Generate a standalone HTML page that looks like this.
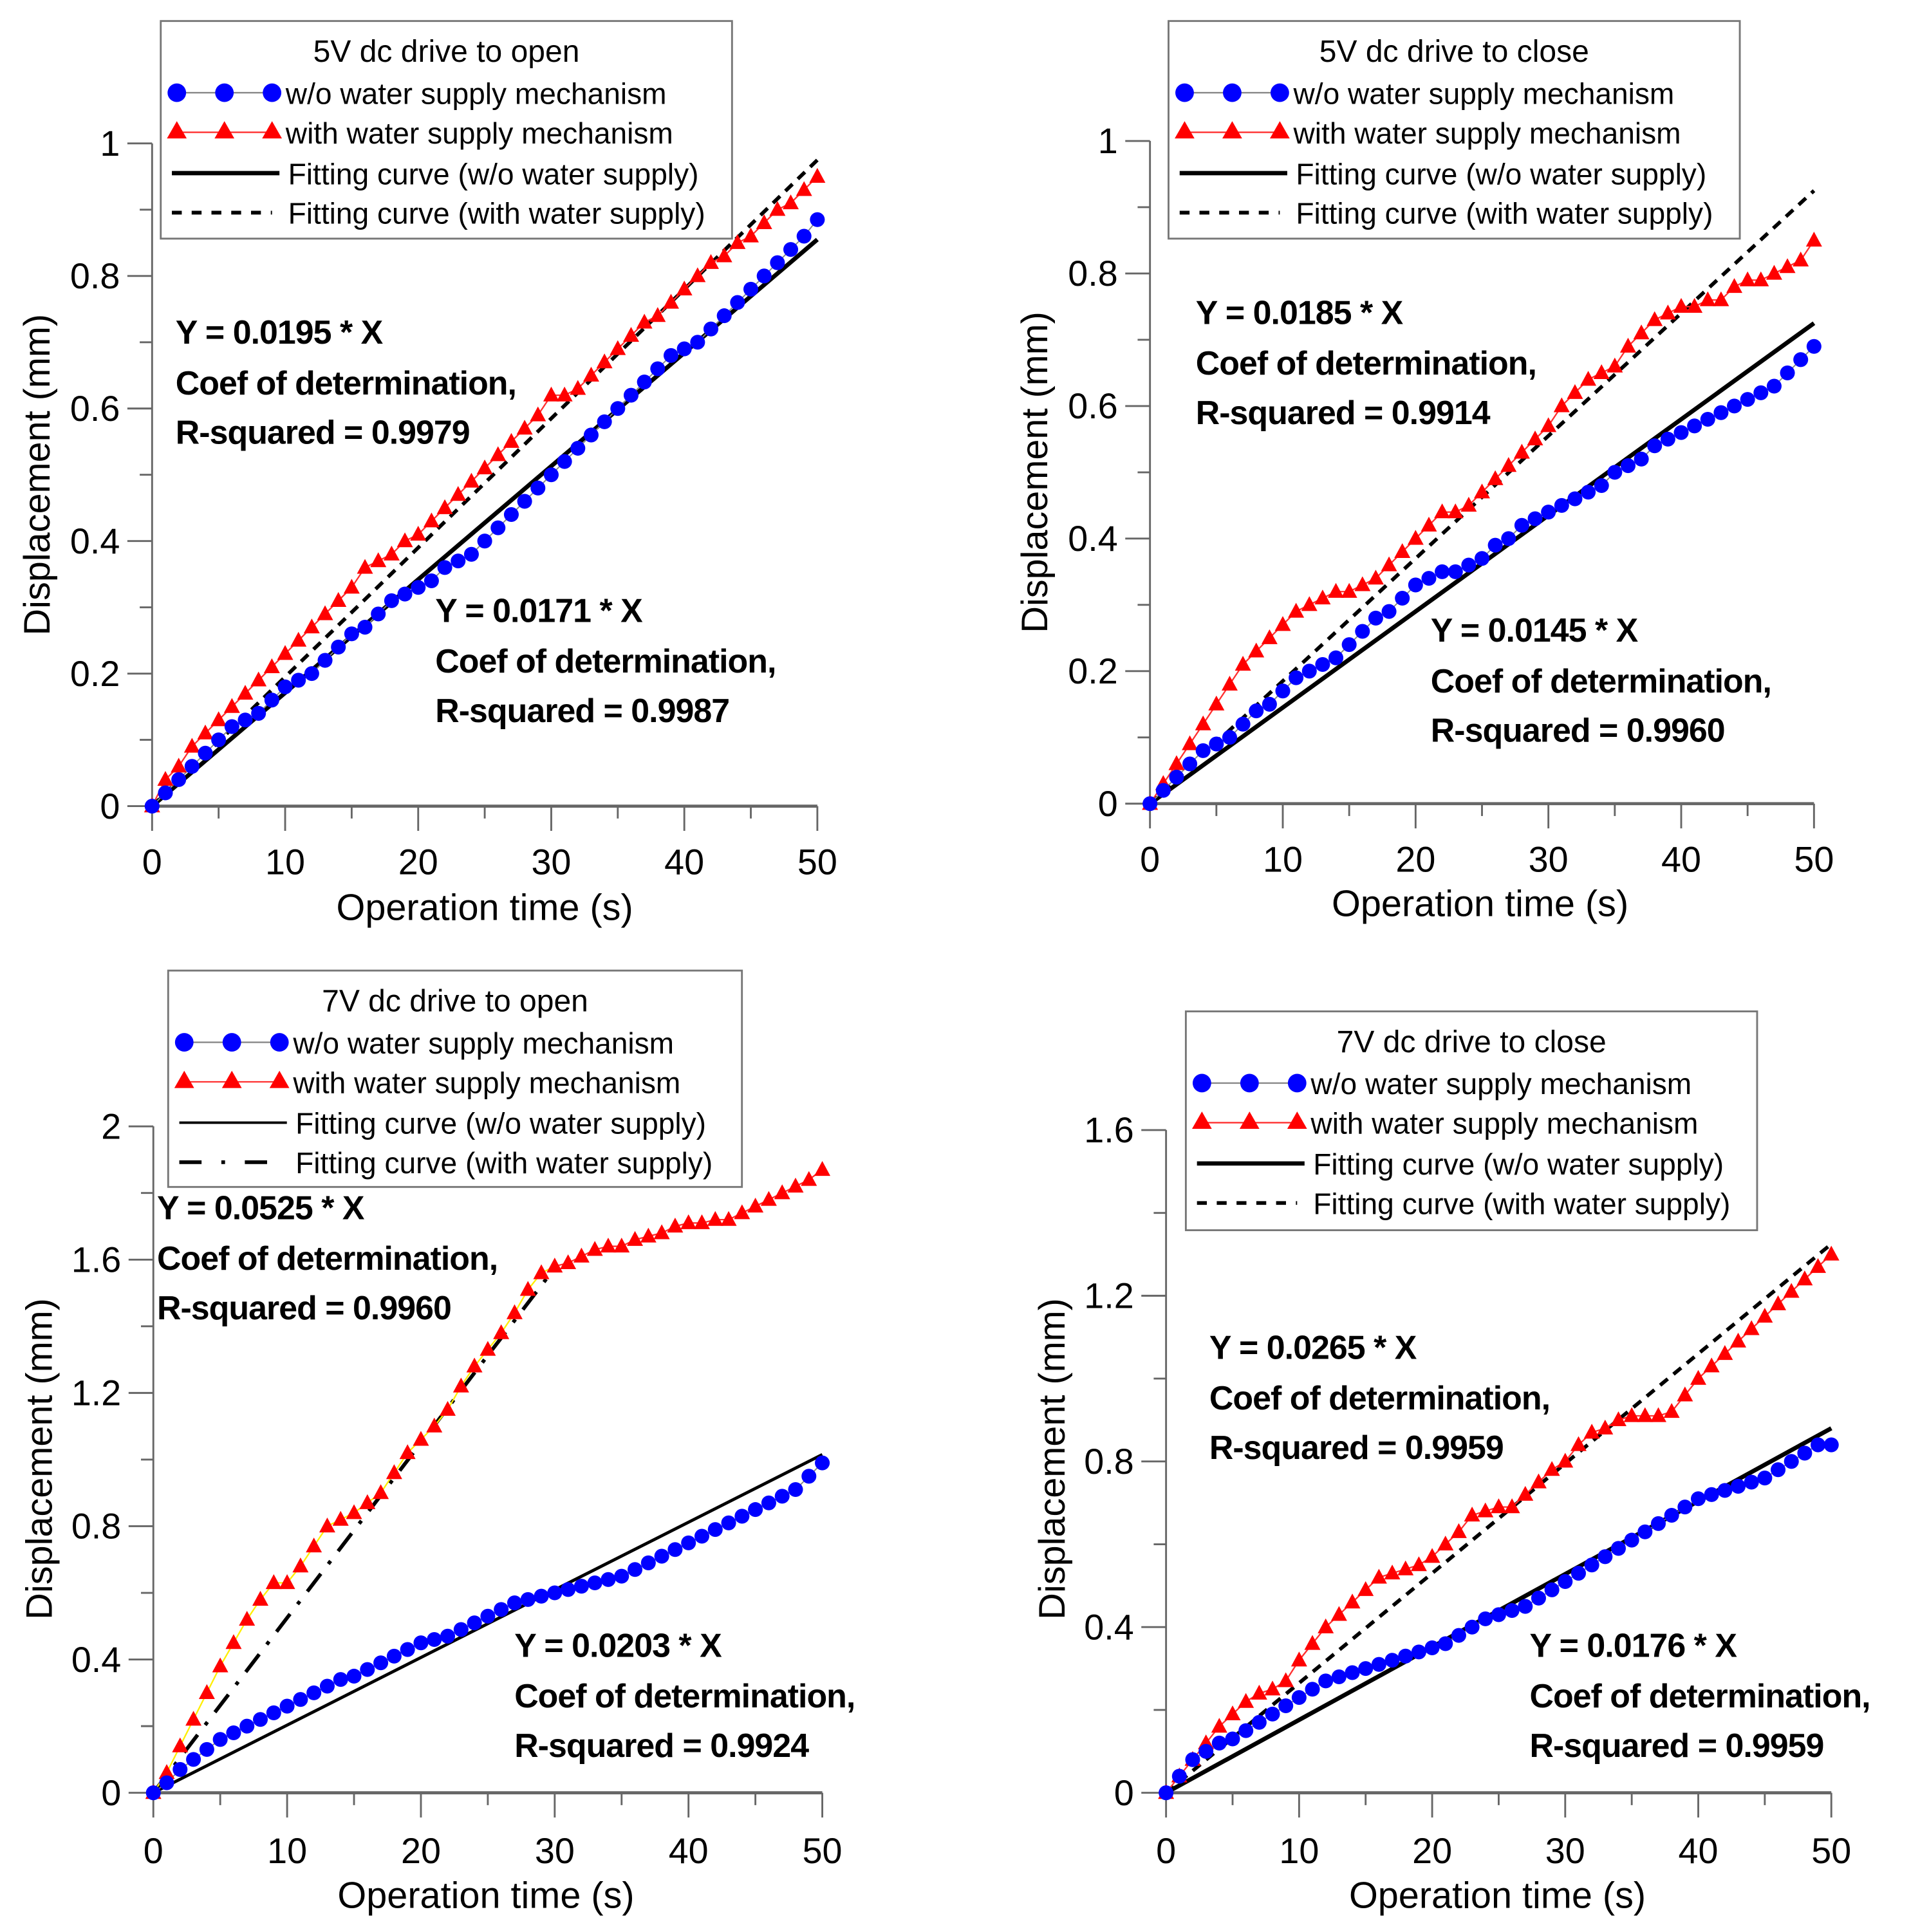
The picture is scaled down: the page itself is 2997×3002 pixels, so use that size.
<!DOCTYPE html>
<html><head><meta charset="utf-8"><style>
html,body{margin:0;padding:0;background:#fff}
svg{display:block}
text{font-family:"Liberation Sans",sans-serif}
.eq{font-family:"Liberation Sans",sans-serif;font-weight:bold;font-size:27px;letter-spacing:-0.5px}
</style></head><body>
<svg id="chart" width="2997" height="3002" viewBox="0 0 1560 1562.6" xmlns="http://www.w3.org/2000/svg"></svg>
<script>
const xTicks=[0,10,20,30,40,50];
const p1Blue=[0,.02,.04,.06,.08,.10,.12,.13,.14,.16,.18,.19,.20,.22,.24,.26,.27,.29,.31,.32,.33,.34,.36,.37,.38,.40,.42,.44,.46,.48,.50,.52,.54,.56,.58,.60,.62,.64,.66,.68,.69,.70,.72,.74,.76,.78,.80,.82,.84,.86,.885];
const p1Red=[0,.04,.06,.09,.11,.13,.15,.17,.19,.21,.23,.25,.27,.29,.31,.33,.36,.37,.38,.40,.41,.43,.45,.47,.49,.51,.53,.55,.57,.59,.62,.62,.63,.65,.67,.69,.71,.73,.74,.76,.78,.80,.82,.83,.85,.86,.88,.90,.91,.93,.95];
const p2Blue=[0,.02,.04,.06,.08,.09,.10,.12,.14,.15,.17,.19,.20,.21,.22,.24,.26,.28,.29,.31,.33,.34,.35,.35,.36,.37,.39,.40,.42,.43,.44,.45,.46,.47,.48,.50,.51,.52,.54,.55,.56,.57,.58,.59,.60,.61,.62,.63,.65,.67,.69];
const p2Red=[0,.03,.06,.09,.12,.15,.18,.21,.23,.25,.27,.29,.30,.31,.32,.32,.33,.34,.36,.38,.40,.42,.44,.44,.45,.47,.49,.51,.53,.55,.57,.60,.62,.64,.65,.66,.69,.71,.73,.74,.75,.75,.76,.76,.78,.79,.79,.80,.81,.82,.85];
const p3Blue=[0,.03,.07,.10,.13,.16,.18,.20,.22,.24,.26,.28,.30,.32,.34,.35,.37,.39,.41,.43,.45,.46,.47,.49,.51,.53,.55,.57,.58,.59,.60,.61,.62,.63,.64,.65,.67,.69,.71,.73,.75,.77,.79,.81,.83,.85,.87,.89,.91,.95,.99];
const p3Red=[0,.06,.14,.22,.30,.38,.45,.52,.58,.63,.63,.68,.74,.80,.82,.84,.87,.90,.96,1.02,1.06,1.10,1.15,1.22,1.28,1.33,1.38,1.44,1.51,1.56,1.58,1.59,1.61,1.63,1.64,1.64,1.66,1.67,1.68,1.70,1.71,1.71,1.72,1.72,1.74,1.76,1.78,1.80,1.82,1.84,1.87];
const p4Blue=[0,.04,.08,.10,.12,.13,.15,.17,.19,.21,.23,.25,.27,.28,.29,.30,.31,.32,.33,.34,.35,.36,.38,.40,.42,.43,.44,.45,.47,.49,.51,.53,.55,.57,.59,.61,.63,.65,.67,.69,.71,.72,.73,.74,.75,.76,.78,.80,.82,.84,.84];
const p4Red=[0,.04,.08,.12,.16,.19,.22,.24,.25,.27,.32,.36,.40,.43,.46,.49,.52,.53,.54,.55,.57,.60,.63,.67,.68,.69,.69,.72,.75,.78,.80,.84,.87,.88,.90,.91,.91,.91,.92,.96,1.00,1.03,1.06,1.09,1.12,1.15,1.18,1.21,1.24,1.27,1.30];
const slopes=[[0.0171,0.0195],[0.0145,0.0185],[0.0203,0.0525],[0.0176,0.0265]];
const yTicks1=[0,0.2,0.4,0.6,0.8,1];
const yTicks3=[0,0.4,0.8,1.2,1.6,2];
const yTicks4=[0,0.4,0.8,1.2,1.6];
const titles=["5V dc drive to open","5V dc drive to close","7V dc drive to open","7V dc drive to close"];
const eqA=[["Y = 0.0195  * X","R-squared = 0.9979"],["Y = 0.0185  * X","R-squared = 0.9914"],["Y = 0.0525  * X","R-squared = 0.9960"],["Y = 0.0265  * X","R-squared = 0.9959"]];
const eqB=[["Y = 0.0171  * X","R-squared = 0.9987"],["Y = 0.0145  * X","R-squared = 0.9960"],["Y = 0.0203  * X","R-squared = 0.9924"],["Y = 0.0176  * X","R-squared = 0.9959"]];

const NS="http://www.w3.org/2000/svg";
const svg=document.getElementById('chart');
function mk(tag,attrs,parent,txt){const e=document.createElementNS(NS,tag);for(const k in attrs)e.setAttribute(k,attrs[k]);if(txt!==undefined)e.textContent=txt;(parent||svg).appendChild(e);return e;}

const panels=[
 {x0:123,x1:661,y0:652,yv:1,yp:116,yTop:116,yt:yTicks1,blue:p1Blue,red:p1Red,leg:[130,17,462,176],eqa:[142,278],eqb:[352,503],ytx:30,yty:384,xtx:392,xty:744,tly:707,dash:"8,6",fitEnd:50,redLine:"#ff3030",minorY:0.1},
 {x0:930,x1:1467,y0:650,yv:1,yp:114,yTop:114,yt:yTicks1,blue:p2Blue,red:p2Red,leg:[945,17,462,176],eqa:[967,262],eqb:[1157,519],ytx:837,yty:382,xtx:1197,xty:741,tly:705,dash:"8,6",fitEnd:50,redLine:"#ff3030",minorY:0.1},
 {x0:124,x1:665,y0:1450,yv:2,yp:911,yTop:911,yt:yTicks3,blue:p3Blue,red:p3Red,leg:[136,785,464,175],eqa:[127,986],eqb:[416,1340],ytx:32,yty:1180,xtx:393,xty:1543,tly:1507,dash:"18,10,3,10",fitEnd:30,redLine:"#ffee00",minorY:0.2},
 {x0:943,x1:1481,y0:1450,yv:1.6,yp:914,yTop:914,yt:yTicks4,blue:p4Blue,red:p4Red,leg:[959,818,462,177],eqa:[978,1099],eqb:[1237,1340],ytx:851,yty:1180,xtx:1211,xty:1543,tly:1507,dash:"8,6",fitEnd:50,redLine:"#ff3030",minorY:0.2}
];

panels.forEach((p,i)=>{
 const g=mk('g',{});
 
 
 const X=v=>p.x0+(p.x1-p.x0)*v/50;
 const Y=v=>p.y0-(p.y0-p.yp)*v/p.yv;
 const ax=mk('g',{stroke:'#666','stroke-width':1.5},g);
 
 
 mk('line',{x1:p.x0,y1:Y(0),x2:p.x0,y2:p.yTop},ax);
 mk('line',{x1:p.x0-3,y1:p.y0,x2:p.x1,y2:p.y0,'stroke-width':2.5},ax);
 p.yt.forEach(t=>{mk('line',{x1:p.x0-20,y1:Y(t),x2:p.x0,y2:Y(t)},ax);
  const tl=mk('text',{x:p.x0-26,y:Y(t)+10,'text-anchor':'end','font-size':29,fill:'#000',stroke:'none'},g,String(t));
  
  });
 for(let v=p.minorY;v<p.yv;v+=2*p.minorY){mk('line',{x1:p.x0-10,y1:Y(v),x2:p.x0,y2:Y(v)},ax);}
 xTicks.forEach(t=>{mk('line',{x1:X(t),y1:p.y0,x2:X(t),y2:p.y0+20},ax);
  const tl=mk('text',{x:X(t),y:p.tly,'text-anchor':'middle','font-size':29,fill:'#000'},g,String(t));
  
  });
 for(let t=5;t<50;t+=10)mk('line',{x1:X(t),y1:p.y0,x2:X(t),y2:p.y0+10},ax);
 const yt=mk('text',{x:0,y:0,transform:`translate(${p.ytx+10},${p.yty}) rotate(-90)`,'text-anchor':'middle','font-size':30},g,'Displacement (mm)');
 
 
 const xt=mk('text',{x:p.xtx,y:p.xty,'text-anchor':'middle','font-size':30},g,'Operation time (s)');
 
 
 const f1=mk('line',{x1:X(0),y1:Y(0),x2:X(50),y2:Y(slopes[i][0]*50),stroke:'#000','stroke-width':i==2?2.5:3.5},g);
 
 
 const f2=mk('line',{x1:X(0),y1:Y(0),x2:X(p.fitEnd),y2:Y(slopes[i][1]*p.fitEnd),stroke:'#000','stroke-width':3,'stroke-dasharray':p.dash},g);
 
 
 const ptsB=p.blue.map((v,k)=>X(k)+','+Y(v)).join(' ');
 mk('polyline',{points:ptsB,fill:'none',stroke:'#888','stroke-width':1},g);
 if(i==2){
  const a=p.red.slice(0,31).map((v,k)=>X(k)+','+Y(v)).join(' ');
  const b=p.red.slice(30).map((v,k)=>X(k+30)+','+Y(v)).join(' ');
  mk('polyline',{points:a,fill:'none',stroke:'#ffee00','stroke-width':1.2},g);
  mk('polyline',{points:b,fill:'none',stroke:'#ff3030','stroke-width':1.2},g);
 } else {
  const ptsR=p.red.map((v,k)=>X(k)+','+Y(v)).join(' ');
  mk('polyline',{points:ptsR,fill:'none',stroke:p.redLine,'stroke-width':1.2},g);
 }
 p.red.forEach((v,k)=>{const cx=X(k),cy=Y(v);
  const m=mk('polygon',{points:`${cx},${cy-7} ${cx-6.5},${cy+5} ${cx+6.5},${cy+5}`,fill:'#ff0000'},g);
  
  });
 p.blue.forEach((v,k)=>{
  const m=mk('circle',{cx:X(k),cy:Y(v),r:6,fill:'#0000ff'},g);
  
  });
 [[p.eqa,eqA[i]],[p.eqb,eqB[i]]].forEach(([pos,tx],j)=>{
  const eg=mk('g',{},g);
  
  
  mk('text',{x:pos[0],y:pos[1],class:'eq'},eg,tx[0]);
  mk('text',{x:pos[0],y:pos[1]+41,class:'eq'},eg,'Coef of determination,');
  mk('text',{x:pos[0],y:pos[1]+81,class:'eq'},eg,tx[1]);
 });
 const [lx,ly,lw,lh]=p.leg;
 const lg=mk('g',{},g);
 
 
 mk('rect',{x:lx,y:ly,width:lw,height:lh,fill:'#fff',stroke:'#777','stroke-width':1.5},lg);
 mk('text',{x:lx+lw/2,y:ly+33,'text-anchor':'middle','font-size':25},lg,titles[i]);
 const sx=lx+13,ex=lx+90,tx=lx+101;
 const rows=[ly+58,ly+90,ly+123,ly+155];
 mk('line',{x1:sx,y1:rows[0],x2:ex,y2:rows[0],stroke:'#888','stroke-width':1.2},lg);
 [sx,(sx+ex)/2,ex].forEach(c=>mk('circle',{cx:c,cy:rows[0],r:7.5,fill:'#0000ff'},lg));
 mk('line',{x1:sx,y1:rows[1],x2:ex,y2:rows[1],stroke:'#ff3030','stroke-width':1.2},lg);
 [sx,(sx+ex)/2,ex].forEach(c=>mk('polygon',{points:`${c},${rows[1]-9} ${c-8},${rows[1]+5} ${c+8},${rows[1]+5}`,fill:'#ff0000'},lg));
 mk('line',{x1:lx+9,y1:rows[2],x2:lx+96,y2:rows[2],stroke:'#000','stroke-width':i==2?2:3.5},lg);
 mk('line',{x1:lx+9,y1:rows[3],x2:lx+90,y2:rows[3],stroke:'#000','stroke-width':3,'stroke-dasharray':i==2?'18,16,3,16':'8,8'},lg);
 const labels=["w/o water supply mechanism","with water supply mechanism","Fitting curve (w/o water supply)","Fitting curve (with water supply)"];
 labels.forEach((t,k)=>{const e=mk('text',{x:k<2?tx:tx+2,y:rows[k]+9,'font-size':24},lg,t);
  
  });
});
</script>
</body></html>
